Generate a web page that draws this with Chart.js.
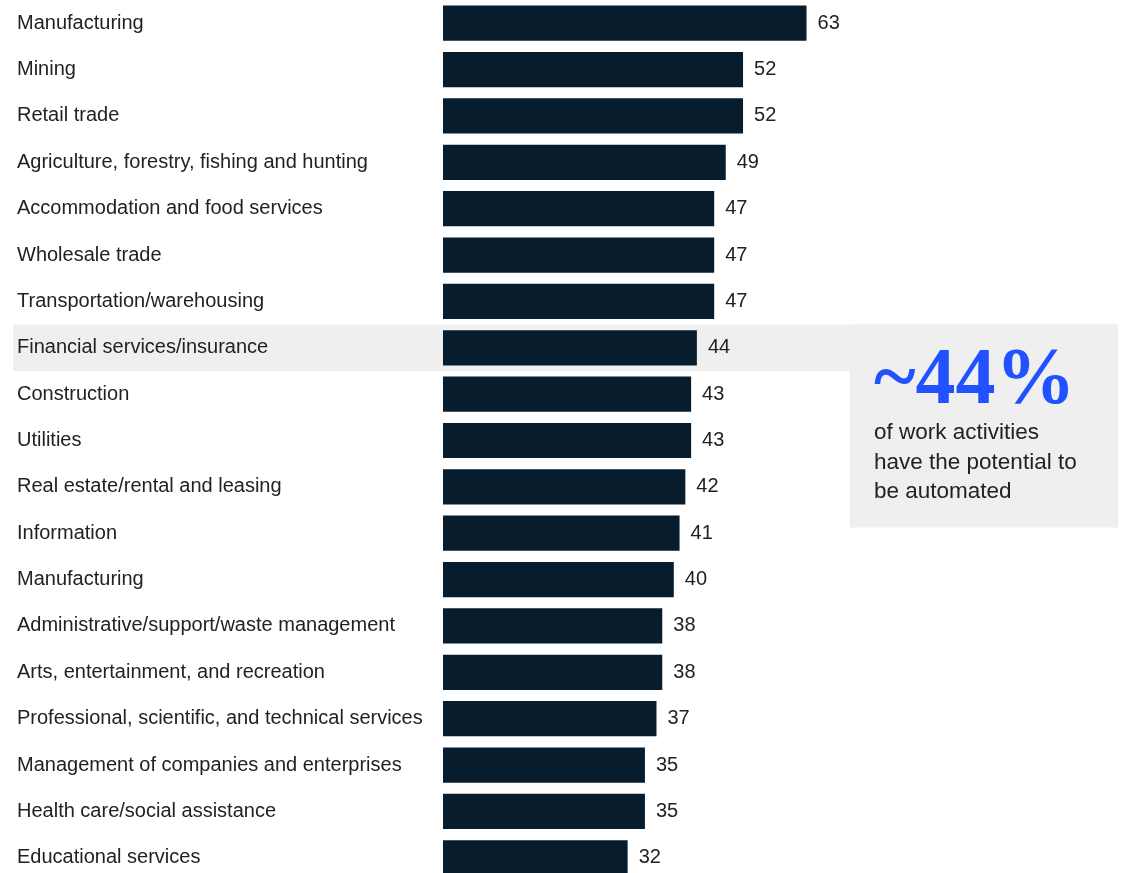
<!DOCTYPE html>
<html>
<head>
<meta charset="utf-8">
<script src="https://cdn.jsdelivr.net/npm/chart.js@4"></script>
<style>
  html, body { margin: 0; padding: 0; background: #fff; overflow: hidden; }
  #wrap { width: 1123px; height: 881px; position: relative; }
</style>
</head>
<body>
<div id="wrap"><canvas id="chart"></canvas></div>
<script>
const industries = [
  'Manufacturing', 'Mining', 'Retail trade', 'Agriculture, forestry, fishing and hunting',
  'Accommodation and food services', 'Wholesale trade', 'Transportation/warehousing',
  'Financial services/insurance', 'Construction', 'Utilities', 'Real estate/rental and leasing',
  'Information', 'Manufacturing', 'Administrative/support/waste management',
  'Arts, entertainment, and recreation', 'Professional, scientific, and technical services',
  'Management of companies and enterprises', 'Health care/social assistance', 'Educational services'
];
const automationShare = [63, 52, 52, 49, 47, 47, 47, 44, 43, 43, 42, 41, 40, 38, 38, 37, 35, 35, 32];
const highlightIndex = 7;
const calloutBig = '~44%';
const calloutLines = ['of work activities', 'have the potential to', 'be automated'];

const barColor = '#071d2e';
const textColor = '#222222';
const panelColor = '#efefef';

// grey band behind the highlighted row + callout panel
const panelPlugin = {
  id: 'panel',
  beforeDraw(chart) {
    const { ctx } = chart;
    const y = chart.scales.y;
    const yc = y.getPixelForValue(highlightIndex);
    const half = (y.getPixelForValue(1) - y.getPixelForValue(0)) / 2;
    ctx.save();
    ctx.fillStyle = panelColor;
    ctx.fillRect(13, yc - half, 1105, half * 2);
    ctx.fillRect(850, yc - half, 268, 203);
    ctx.restore();
  },
  afterDraw(chart) {
    const { ctx } = chart;
    ctx.save();
    ctx.fillStyle = '#2251ff';
    ctx.font = 'bold 80px "Liberation Serif"';
    ctx.textBaseline = 'alphabetic';
    ctx.textAlign = 'left';
    ctx.fillText(calloutBig, 874, 403);
    ctx.fillStyle = textColor;
    ctx.font = '22.5px "Liberation Sans"';
    calloutLines.forEach((line, i) => ctx.fillText(line, 874, 439 + i * 29.5));
    ctx.restore();
  }
};

// numbers at the end of each bar
const valueLabels = {
  id: 'valueLabels',
  afterDatasetsDraw(chart) {
    const { ctx } = chart;
    const meta = chart.getDatasetMeta(0);
    ctx.save();
    ctx.fillStyle = textColor;
    ctx.font = '20px "Liberation Sans"';
    ctx.textAlign = 'left';
    ctx.textBaseline = 'middle';
    meta.data.forEach((bar, i) => {
      ctx.fillText(String(automationShare[i]), bar.x + 11, bar.y);
    });
    ctx.restore();
  }
};

new Chart(document.getElementById('chart'), {
  type: 'bar',
  data: {
    labels: industries,
    datasets: [{
      data: automationShare,
      backgroundColor: barColor,
      categoryPercentage: 1,
      barPercentage: 0.76
    }]
  },
  options: {
    indexAxis: 'y',
    responsive: true,
    maintainAspectRatio: false,
    animation: false,
    layout: { padding: { left: 17, right: 103, top: 0, bottom: 0 } },
    plugins: { legend: { display: false }, tooltip: { enabled: false } },
    scales: {
      x: {
        min: 0, max: 100,
        display: false,
        grid: { display: false }
      },
      y: {
        grid: { display: false },
        border: { display: false },
        ticks: {
          crossAlign: 'far',
          color: textColor,
          font: { family: 'Liberation Sans', size: 20 },
          padding: 0
        },
        afterFit(scale) {
          scale.width = 426;
          scale.paddingTop = 0;
          scale.paddingBottom = 0;
        }
      }
    }
  },
  plugins: [panelPlugin, valueLabels]
});
</script>
</body>
</html>
